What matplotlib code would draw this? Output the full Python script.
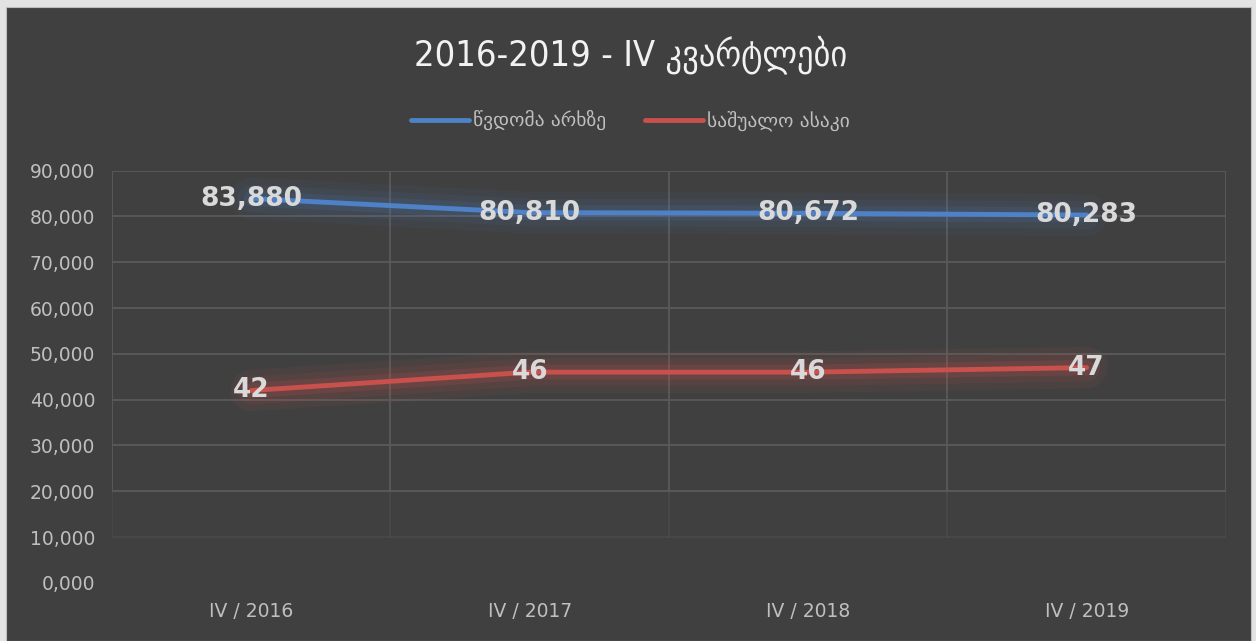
import matplotlib
matplotlib.use("Agg")
from matplotlib import pyplot as plt
from matplotlib import patheffects as pe
from matplotlib.patches import Rectangle

plt.rcParams['font.family'] = ['DejaVu Sans']

categories = ["IV / 2016", "IV / 2017", "IV / 2018", "IV / 2019"]
reach = [83.880, 80.810, 80.672, 80.283]
avg_age = [42, 46, 46, 47]
reach_labels = ["83,880", "80,810", "80,672", "80,283"]
age_labels = ["42", "46", "46", "47"]
yticks = [0, 10, 20, 30, 40, 50, 60, 70, 80, 90]
ytick_labels = ["%d,000" % v for v in yticks]

bg = "#404040"
fig = plt.figure(figsize=(12.56, 6.41), dpi=100, facecolor="#e3e3e3")
fig.patches.append(Rectangle((6/1256, 0), 1245/1256, 1 - 7/641, transform=fig.transFigure,
                             facecolor=bg, edgecolor="#bdbdbd", linewidth=0.8, zorder=-10))
ax = fig.add_axes([0.0892, 0.0905, 0.8868, 0.6435])
ax.set_facecolor("none")
for s in ax.spines.values():
    s.set_visible(False)

x = list(range(len(categories)))
ax.set_xlim(-0.5, 3.5)
ax.set_ylim(0, 90)

# gridlines fading towards the bottom
for v in yticks:
    a = 1.0 if v >= 20 else (0.3 if v == 10 else 0.0)
    ax.axhline(v, color="#5a5a5a", lw=1.3, alpha=a, zorder=1)
for xv in [-0.5, 0.5, 1.5, 2.5, 3.5]:
    ax.plot([xv, xv], [20, 90], color="#5a5a5a", lw=1.3, zorder=1)
    ax.plot([xv, xv], [10, 20], color="#5a5a5a", lw=1.3, alpha=0.3, zorder=1)

def glow(color, k=1.0):
    return [pe.Stroke(linewidth=30, foreground=color, alpha=0.06 * k),
            pe.Stroke(linewidth=20, foreground=color, alpha=0.09 * k),
            pe.Stroke(linewidth=11, foreground=color, alpha=0.13 * k),
            pe.Normal()]

ax.plot(x, reach, color="#4f81c7", lw=3.5, solid_capstyle="round", zorder=3,
        path_effects=glow("#4f81c7"), label="წვდომა არხზე")
ax.plot(x, avg_age, color="#c8504d", lw=3.5, solid_capstyle="round", zorder=3,
        path_effects=glow("#c0504d", 1.3), label="საშუალო ასაკი")

for xi, v, t in zip(x, reach, reach_labels):
    ax.text(xi, v, t, ha="center", va="center", fontsize=19, fontweight="bold",
            color="#d9d9d9", zorder=4)
for xi, v, t in zip(x, avg_age, age_labels):
    ax.text(xi, v, t, ha="center", va="center", fontsize=19, fontweight="bold",
            color="#d9d9d9", zorder=4)

ax.set_xticks(x)
ax.set_xticklabels(categories)
ax.set_yticks(yticks)
ax.set_yticklabels(ytick_labels)
ax.tick_params(length=0, colors="#bfbfbf", labelsize=13.5)
ax.tick_params(axis="x", pad=14)
ax.tick_params(axis="y", pad=12)

fig.text(0.502, 0.915, "2016-2019 - IV კვარტლები", ha="center", va="center",
         fontsize=26, color="#f2f2f2", fontstretch="condensed")
leg = fig.legend(loc="center", bbox_to_anchor=(0.502, 0.812), ncol=2, frameon=False,
                 fontsize=14, handlelength=3.0, handletextpad=0.2, columnspacing=2.0)
for t in leg.get_texts():
    t.set_color("#bfbfbf")
for h in leg.get_lines():
    h.set_path_effects([])
    h.set_linewidth(3.5)

fig.savefig("out.png", dpi=100, facecolor=fig.get_facecolor())
